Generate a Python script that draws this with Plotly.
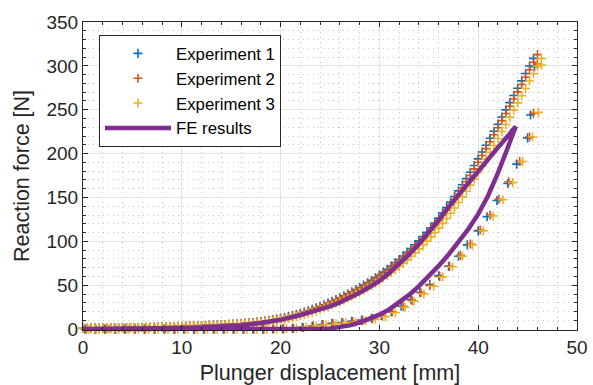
import plotly.graph_objects as go

# Plunger displacement sampling of the loading branch [mm]
load_x = [
    0.0, 0.4, 0.8, 1.2, 1.6, 2.0, 2.4, 2.8, 3.2, 3.6,
    4.0, 4.4, 4.8, 5.2, 5.6, 6.0, 6.4, 6.8, 7.2, 7.6,
    8.0, 8.4, 8.8, 9.2, 9.6, 10.0, 10.4, 10.8, 11.2, 11.6,
    12.0, 12.4, 12.8, 13.2, 13.6, 14.0, 14.4, 14.8, 15.2, 15.6,
    16.0, 16.4, 16.8, 17.2, 17.6, 18.0, 18.4, 18.8, 19.2, 19.6,
    20.0, 20.4, 20.8, 21.2, 21.6, 22.0, 22.4, 22.8, 23.2, 23.6,
    24.0, 24.4, 24.8, 25.2, 25.6, 26.0, 26.4, 26.8, 27.2, 27.6,
    28.0, 28.4, 28.8, 29.2, 29.6, 30.0, 30.4, 30.8, 31.2, 31.6,
    32.0, 32.4, 32.8, 33.2, 33.6, 34.0, 34.4, 34.8, 35.2, 35.6,
    36.0, 36.4, 36.8, 37.2, 37.6, 38.0, 38.4, 38.8, 39.2, 39.6,
    40.0, 40.4, 40.8, 41.2, 41.6, 42.0, 42.4, 42.8, 43.2, 43.6,
    44.0, 44.4, 44.8, 45.2, 45.6, 46.0, 46.4,
]

# Reaction force while loading [N]
exp1_load = [
    1.0, 1.0, 1.1, 1.1, 1.2, 1.2, 1.3, 1.4, 1.4, 1.5,
    1.6, 1.7, 1.8, 1.8, 1.9, 2.0, 2.1, 2.2, 2.4, 2.5,
    2.6, 2.7, 2.8, 3.0, 3.1, 3.3, 3.5, 3.6, 3.8, 3.9,
    4.1, 4.3, 4.5, 4.7, 4.9, 5.1, 5.3, 5.6, 5.8, 6.1,
    6.4, 6.8, 7.2, 7.6, 8.1, 8.6, 9.2, 9.9, 10.6, 11.4,
    12.2, 13.2, 14.3, 15.4, 16.7, 18.0, 19.5, 21.0, 22.6, 24.3,
    26.0, 27.8, 29.7, 31.6, 33.7, 35.7, 37.9, 40.2, 42.5, 45.0,
    47.4, 50.1, 52.8, 55.6, 58.6, 61.6, 65.0, 68.3, 71.9, 75.6,
    79.3, 83.4, 87.5, 91.7, 96.2, 100.6, 105.5, 110.4, 115.5, 121.0,
    126.5, 132.5, 138.5, 144.7, 151.1, 157.5, 164.5, 171.5, 178.8, 186.4,
    194.0, 201.8, 209.6, 217.5, 225.5, 233.5, 241.7, 249.9, 258.1, 266.3,
    274.5, 282.9, 291.3, 299.9, 308.5,
]
exp2_load = [
    1.0, 1.0, 1.0, 1.1, 1.1, 1.2, 1.2, 1.3, 1.4, 1.4,
    1.5, 1.6, 1.7, 1.8, 1.8, 1.9, 2.0, 2.1, 2.3, 2.4,
    2.5, 2.6, 2.7, 2.9, 3.0, 3.2, 3.4, 3.5, 3.7, 3.8,
    4.0, 4.2, 4.4, 4.6, 4.8, 5.0, 5.2, 5.4, 5.7, 5.9,
    6.2, 6.6, 7.0, 7.4, 7.8, 8.3, 8.9, 9.5, 10.2, 11.0,
    11.8, 12.7, 13.7, 14.8, 16.0, 17.3, 18.7, 20.2, 21.8, 23.4,
    25.1, 26.9, 28.7, 30.6, 32.6, 34.7, 36.8, 39.0, 41.3, 43.7,
    46.2, 48.7, 51.4, 54.2, 57.1, 60.1, 63.3, 66.6, 70.1, 73.7,
    77.4, 81.3, 85.4, 89.6, 94.0, 98.4, 103.0, 108.0, 113.0, 118.2,
    123.7, 129.5, 135.5, 141.6, 147.9, 154.3, 161.0, 168.0, 175.1, 182.6,
    190.2, 197.9, 205.7, 213.5, 221.5, 229.5, 237.6, 245.8, 254.0, 262.2,
    270.4, 278.7, 287.1, 295.6, 304.2, 312.8,
]
exp3_load = [
    0.9, 0.9, 1.0, 1.0, 1.1, 1.1, 1.2, 1.2, 1.3, 1.4,
    1.4, 1.5, 1.6, 1.7, 1.8, 1.8, 1.9, 2.0, 2.1, 2.2,
    2.4, 2.5, 2.6, 2.7, 2.8, 3.0, 3.1, 3.3, 3.5, 3.6,
    3.8, 3.9, 4.1, 4.3, 4.5, 4.7, 4.9, 5.1, 5.3, 5.6,
    5.8, 6.1, 6.4, 6.8, 7.2, 7.6, 8.1, 8.6, 9.2, 9.9,
    10.6, 11.3, 12.1, 13.0, 14.1, 15.2, 16.4, 17.8, 19.2, 20.7,
    22.3, 24.0, 25.7, 27.5, 29.4, 31.3, 33.3, 35.4, 37.6, 39.9,
    42.2, 44.6, 47.1, 49.7, 52.4, 55.2, 58.2, 61.3, 64.6, 67.9,
    71.5, 75.2, 78.9, 83.0, 87.1, 91.4, 95.8, 100.3, 105.1, 110.0,
    115.1, 120.5, 126.1, 132.0, 138.1, 144.3, 150.7, 157.2, 164.1, 171.2,
    178.5, 186.0, 193.7, 201.5, 209.3, 217.2, 225.2, 233.2, 241.4, 249.6,
    257.8, 266.0, 274.3, 282.7, 291.1, 299.6, 308.3,
]

# Unloading branch: displacement [mm] and reaction force [N]
exp1_unload_x = [
    45.7, 45.3, 45.0, 43.9, 43.0, 41.9, 40.9, 40.0, 38.9, 38.0,
    37.0, 36.0, 35.1, 34.1, 33.2, 32.2, 31.2, 30.2, 29.2, 28.2,
    27.2, 26.2, 25.2, 24.2, 23.2, 22.2, 21.2, 20.2, 19.2, 18.2,
    17.2, 16.2, 15.2, 14.2, 13.2, 12.2, 11.2, 10.2, 9.2, 8.2,
    7.2, 6.2, 5.2, 4.2, 3.2, 2.2, 1.2, 0.2,
]
exp1_unload_y = [
    299.0, 244.0, 218.0, 188.0, 166.0, 146.6, 128.0, 112.0, 96.0, 83.0,
    71.6, 61.0, 50.8, 42.0, 33.7, 26.0, 19.8, 15.5, 12.4, 10.3,
    8.8, 7.6, 6.5, 5.2, 3.6, 2.0, 0.9, 0.3, 0.1, 0.0,
    0.0, 0.0, 0.0, 0.0, 0.0, 0.0, 0.0, 0.0, 0.0, 0.0,
    0.0, 0.0, 0.0, 0.0, 0.0, 0.0, 0.0, 0.0,
]
exp2_unload_x = [
    46.0, 45.6, 45.2, 44.2, 43.1, 42.1, 41.2, 40.2, 39.2, 38.2,
    37.1, 36.1, 35.1, 34.2, 33.3, 32.4, 31.3, 30.3, 29.3, 28.3,
    27.3, 26.3, 25.3, 24.3, 23.3, 22.3, 21.3, 20.3, 19.3, 18.3,
    17.3, 16.3, 15.3, 14.3, 13.3, 12.3, 11.3, 10.3, 9.3, 8.3,
    7.3, 6.3, 5.3, 4.3, 3.3, 2.3, 1.3, 0.3,
]
exp2_unload_y = [
    302.0, 246.0, 219.0, 191.0, 168.0, 148.0, 130.0, 113.0, 97.0, 84.0,
    71.6, 60.0, 49.7, 41.4, 32.6, 26.0, 19.8, 15.0, 12.0, 10.0,
    8.5, 7.3, 6.3, 5.0, 3.4, 1.9, 0.8, 0.3, 0.1, 0.0,
    0.0, 0.0, 0.0, 0.0, 0.0, 0.0, 0.0, 0.0, 0.0, 0.0,
    0.0, 0.0, 0.0, 0.0, 0.0, 0.0, 0.0, 0.0,
]
exp3_unload_x = [
    46.4, 46.1, 45.5, 44.5, 43.5, 42.5, 41.5, 40.5, 39.4, 38.4,
    37.4, 36.4, 35.5, 34.5, 33.5, 32.6, 31.6, 30.6, 29.6, 28.6,
    27.6, 26.6, 25.6, 24.6, 23.6, 22.6, 21.6, 20.6, 19.6, 18.6,
    17.6, 16.6, 15.6, 14.6, 13.6, 12.6, 11.6, 10.6, 9.6, 8.6,
    7.6, 6.6, 5.6, 4.6, 3.6, 2.6, 1.6, 0.6,
]
exp3_unload_y = [
    301.0, 247.0, 219.0, 191.0, 167.0, 147.4, 129.0, 112.0, 96.0, 83.0,
    71.0, 59.5, 48.9, 40.2, 31.8, 25.0, 18.6, 14.2, 11.4, 9.5,
    8.2, 7.1, 6.1, 4.9, 3.5, 2.1, 1.0, 0.4, 0.1, 0.0,
    0.0, 0.0, 0.0, 0.0, 0.0, 0.0, 0.0, 0.0, 0.0, 0.0,
    0.0, 0.0, 0.0, 0.0, 0.0, 0.0, 0.0, 0.0,
]

# Finite element prediction: loading up to the peak, then unloading
fe_x = [
    0.0, 2.0, 4.0, 6.0, 8.0, 10.0, 12.0, 14.0, 16.0, 18.0,
    20.0, 22.0, 24.0, 25.0, 26.0, 27.0, 28.0, 29.0, 30.0, 31.0,
    32.0, 33.0, 34.0, 35.0, 36.0, 37.0, 38.0, 39.0, 40.0, 41.0,
    42.0, 43.0, 43.8,
    43.0, 42.4, 42.0, 41.0, 40.0, 39.0, 38.0, 37.0, 36.0, 35.0,
    34.0, 33.0, 32.0, 31.0, 30.0, 29.0, 28.0, 27.0, 26.0, 25.0,
    24.0, 22.0, 18.0, 12.0, 6.0, 0.0,
]
fe_y = [
    0.0, 0.1, 0.25, 0.5, 0.8, 1.3, 2.0, 3.0, 4.5, 7.0,
    10.5, 16.0, 22.0, 26.0, 30.5, 35.5, 41.5, 48.0, 55.0, 64.0,
    74.0, 85.0, 97.0, 110.0, 124.0, 139.0, 153.0, 166.0, 180.0, 194.0,
    207.0, 220.0, 231.0,
    207.0, 189.0, 178.0, 152.0, 131.0, 114.0, 99.0, 85.0, 72.0, 60.0,
    49.0, 39.0, 30.0, 22.5, 16.5, 11.5, 7.5, 4.3, 2.1, 0.8,
    0.2, 0.0, 0.0, 0.0, 0.0, 0.0,
]

series_names = ["Experiment 1", "Experiment 2", "Experiment 3"]
series_colors = ["#0072BD", "#D95319", "#EDB120"]
fe_color = "#7E2F8E"

experiments = [
    (exp1_load, exp1_unload_x, exp1_unload_y),
    (exp2_load, exp2_unload_x, exp2_unload_y),
    (exp3_load, exp3_unload_x, exp3_unload_y),
]

fig = go.Figure()

for name, color, (ld, ux, uy) in zip(series_names, series_colors, experiments):
    xs = load_x[:len(ld)] + ux
    ys = ld + uy
    fig.add_trace(go.Scatter(
        x=xs, y=ys, mode="markers", name=name,
        marker=dict(symbol="cross-thin", size=6.5, color=color,
                    line=dict(color=color, width=1.6)),
        cliponaxis=False,
    ))

fig.add_trace(go.Scatter(
    x=fe_x, y=fe_y, mode="lines", name="FE results",
    line=dict(color=fe_color, width=4.5),
))

axis_common = dict(
    showline=True, linecolor="#262626", linewidth=1, mirror="ticks",
    ticks="inside", ticklen=5, tickcolor="#262626", tickwidth=1,
    showgrid=True, gridcolor="#e3e3e3", gridwidth=1,
    zeroline=False, automargin=False,
    tickfont=dict(size=19, color="#262626"),
    title_font=dict(size=21.5, color="#262626"),
)

fig.update_xaxes(
    range=[0, 50], tick0=0, dtick=10,
    title_text="Plunger displacement [mm]", title_standoff=11,
    minor=dict(dtick=2, ticks="inside", ticklen=3, tickcolor="#262626",
               showgrid=True, gridcolor="#c8c8c8", griddash="1px,4px"),
    **axis_common,
)
fig.update_yaxes(
    range=[-1, 350], tick0=0, dtick=50,
    title_text="Reaction force [N]", title_standoff=10,
    minor=dict(dtick=10, ticks="inside", ticklen=3, tickcolor="#262626",
               showgrid=True, gridcolor="#c8c8c8", griddash="1px,4px"),
    **axis_common,
)

fig.update_layout(
    width=593, height=385,
    margin=dict(l=83, r=16, t=22, b=55),
    paper_bgcolor="white", plot_bgcolor="white",
    font=dict(family="Liberation Sans, Arial, sans-serif", color="#262626"),
    legend=dict(
        x=0.0324, y=0.958, xanchor="left", yanchor="top",
        bgcolor="white", bordercolor="#262626", borderwidth=1,
        font=dict(size=16.8, color="#000000"),
        itemwidth=66, tracegroupgap=0,
    ),
)

fig.write_html("out.html")
